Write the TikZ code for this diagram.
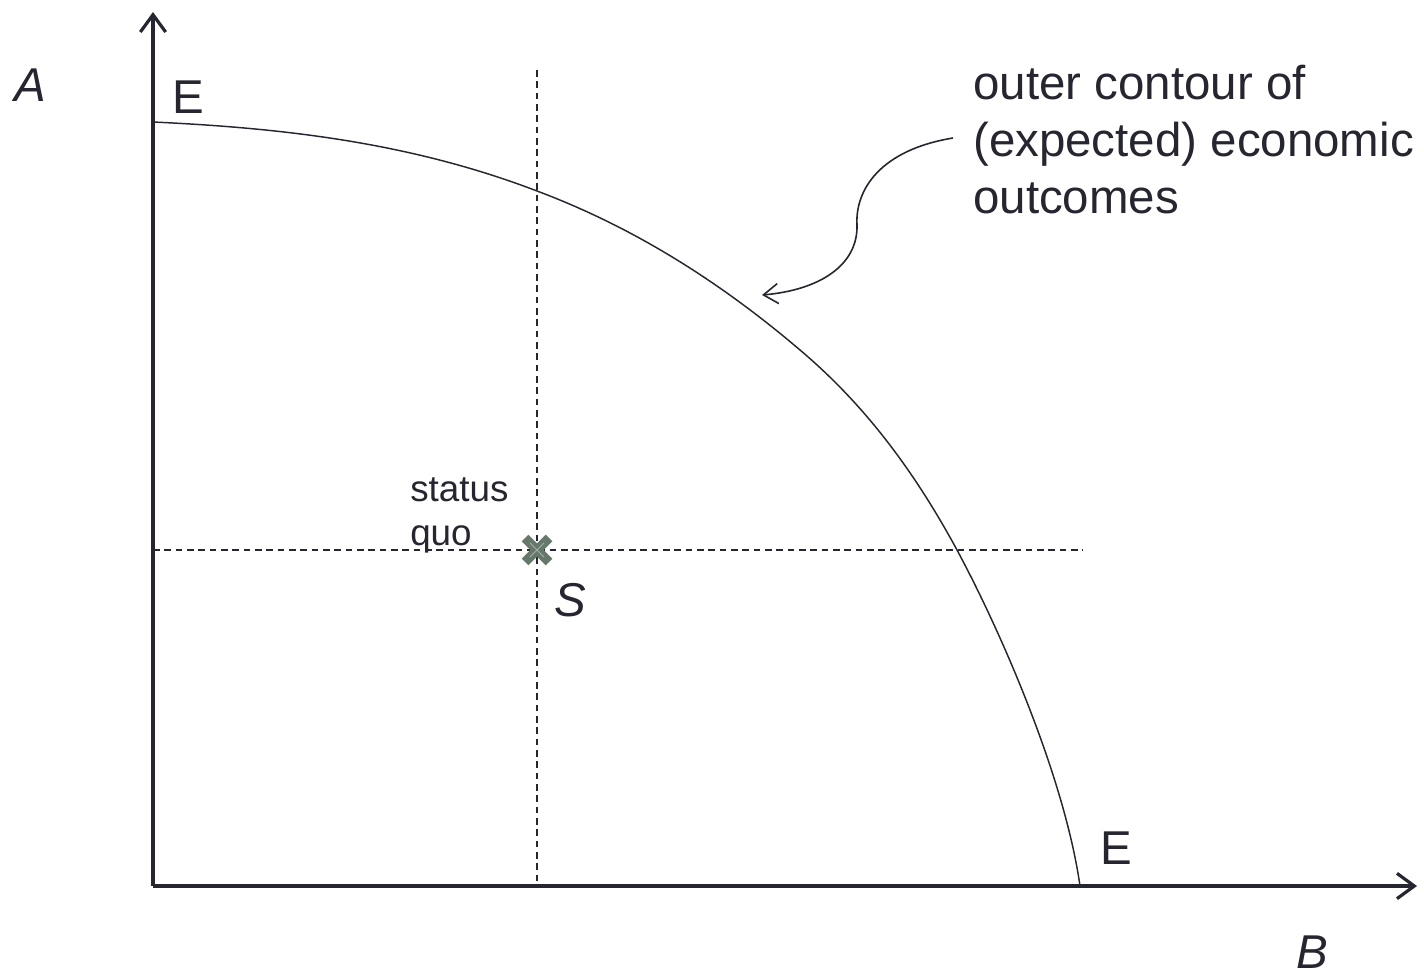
\documentclass[tikz,border=0pt]{standalone}
\usepackage{fontspec}
\setmainfont{Liberation Sans}
\usetikzlibrary{arrows.meta}
\definecolor{ink}{HTML}{262630}
\definecolor{mk}{HTML}{66786A}
\definecolor{mkl}{HTML}{A3B0A6}
\tikzset{
  axis/.style={draw=ink, line width=2.5pt, -{Straight Barb[length=13pt,width=19pt,line width=2.4pt]}},
  contour/.style={draw=ink, line width=1.1pt},
  guide/.style={draw=ink, line width=1pt, dash pattern=on 5pt off 3.5pt},
  pointer/.style={draw=ink, line width=1.2pt, -{Straight Barb[length=11pt,width=15pt,line width=1.2pt]}},
  big/.style={text=ink, font=\fontsize{35.6}{42.75}\selectfont, inner sep=0pt},
  bigit/.style={text=ink, font=\fontsize{35.6}{42.75}\selectfont\itshape, inner sep=0pt},
  small/.style={text=ink, font=\fontsize{27.6}{33}\selectfont, inner sep=0pt},
}
\begin{document}
\begin{tikzpicture}[x=0.75pt, y=-0.75pt]
\useasboundingbox (0,0) rectangle (1424,977);
% key points
\coordinate (O) at (153,886);
\coordinate (ytip) at (153,12);
\coordinate (xtip) at (1417,886);
\coordinate (vtop) at (537,70);
\coordinate (vbot) at (537,886);
\coordinate (hleft) at (153,550);
\coordinate (hright) at (1083,550);
\coordinate (Etop) at (153,122);
\coordinate (Ebot) at (1080,886);
\coordinate (pstart) at (953,138);
\coordinate (pend) at (762,295);
% guides
\draw[guide] (vtop) -- (vbot);
\draw[guide] (hleft) -- (hright);
% contour
\draw[contour] (Etop) .. controls (281,128) and (409,142) .. (537,191)
  .. controls (625,224) and (712,275) .. (800,350)
  .. controls (852,394) and (905,454) .. (957,550)
  .. controls (998,626) and (1064,774) .. (Ebot);
% axes
\draw[axis] (O) -- (ytip);
\draw[axis] (O) -- (xtip);
% pointer arrow
\draw[pointer] (pstart) .. controls (880,150) and (855,190) .. (857,225) .. controls (858,265) and (820,290) .. (pend);
% status quo marker
\node[inner sep=0pt, minimum size=1pt] (sq) at (537,550) {};
\draw[mk, line width=7pt] (525,538) -- (549,562);
\draw[mk, line width=7pt] (525,562) -- (549,538);
\draw[mkl, line width=0.7pt] (530,543) -- (544,557);
\draw[mkl, line width=0.7pt] (530,557) -- (544,543);
% labels
\node[bigit] (A) at (30,85) {A};
\node[big] (E1) at (188,97) {E};
\node[big] (E2) at (1116,848) {E};
\node[bigit] (S) at (570,600) {S};
\node[bigit] (B) at (1312,952) {B};
\node[big, align=left, anchor=west] (lbl) at (973,140) {outer contour of\\(expected) economic\\outcomes};
\node[small, align=left, anchor=west] (sqt) at (410,515) {status\\quo};
\end{tikzpicture}
\end{document}
